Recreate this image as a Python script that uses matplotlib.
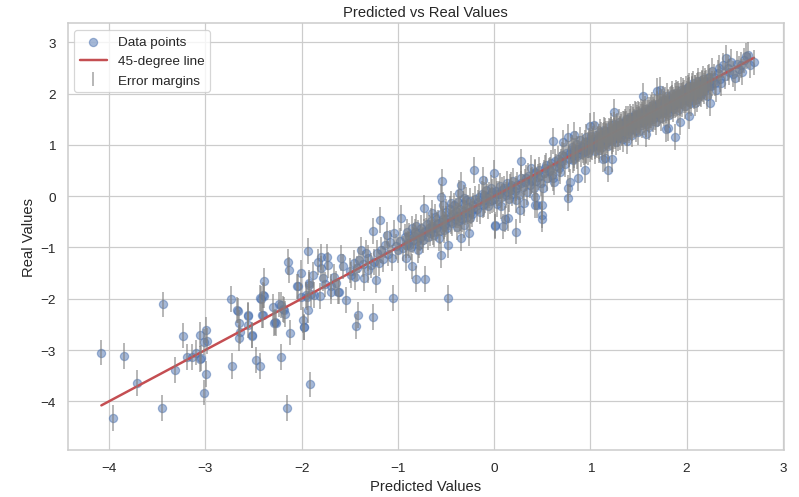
import matplotlib
matplotlib.use("Agg")
import matplotlib.pyplot as plt
import seaborn as sns
import numpy as np

# (predicted, real) pairs, grouped by region
points_low = [
    (-4.08, -3.05), (-3.96, -4.32), (-3.84, -3.12), (-3.71, -3.64), (-3.44, -2.11),
    (-3.45, -4.13), (-3.31, -3.39), (-3.23, -2.72), (-3.19, -3.14), (-3.14, -3.14),
    (-3.06, -2.70), (-3.04, -3.16), (-3.01, -2.84), (-2.99, -2.61), (-2.98, -2.83),
    (-2.99, -3.47), (-3.01, -3.83), (-3.06, -3.18), (-3.10, -3.05),
    (-2.73, -2.00), (-2.72, -3.31), (-2.66, -2.23), (-2.65, -2.47), (-2.65, -2.76),
    (-2.64, -2.64), (-2.56, -2.34), (-2.52, -2.72), (-2.47, -3.19), (-2.43, -3.31),
    (-2.41, -2.32), (-2.42, -2.00), (-2.39, -1.94), (-2.39, -1.65), (-2.30, -2.16),
    (-2.29, -2.47), (-2.27, -2.47), (-2.23, -2.11), (-2.21, -3.14), (-2.19, -2.20),
    (-2.17, -2.30), (-2.12, -2.66), (-2.15, -4.13), (-2.05, -1.76), (-1.98, -2.56),
    (-1.99, -2.41), (-1.91, -3.67), (-1.92, -1.69), (-1.94, -1.96), (-1.93, -2.22),
    (-1.87, -1.93), (-1.81, -1.95), (-1.69, -1.86), (-1.62, -1.86),
    (-2.14, -1.28), (-2.13, -1.44), (-2.01, -1.50), (-2.04, -1.76), (-2.01, -1.96),
    (-1.93, -1.07), (-1.88, -1.54), (-1.92, -1.73), (-1.95, -1.93), (-1.90, -1.91),
    (-1.83, -1.28), (-1.80, -1.18), (-1.80, -1.41), (-1.78, -1.60), (-1.74, -1.19),
    (-1.73, -1.34), (-1.69, -1.76), (-1.61, -1.86), (-2.18, -2.22), (-2.21, -2.12),
    (-2.28, -2.45), (-2.40, -1.93), (-2.43, -1.99), (-2.40, -2.32), (-2.56, -2.32),
    (-2.56, -2.51), (-2.67, -2.22), (-2.51, -2.71), (-1.98, -2.55), (-1.76, -1.72),
    (-1.66, -1.58), (-1.64, -1.70),
]

points_mid = [
    (-1.59, -1.21), (-1.57, -1.37), (-1.54, -2.02), (-1.49, -1.54), (-1.42, -1.41),
    (-1.38, -1.05), (-1.35, -1.60), (-1.31, -1.21), (-1.31, -1.44), (-1.26, -0.68),
    (-1.23, -1.63), (-1.22, -1.11), (-1.19, -0.46), (-1.11, -0.76), (-1.05, -1.99),
    (-1.04, -0.72), (-0.97, -0.43), (-0.91, -1.21), (-0.90, -0.69), (-0.85, -0.63),
    (-0.85, -1.37), (-0.81, -1.62), (-0.81, -0.59), (-0.79, -0.72), (-0.79, -1.05),
    (-0.73, -0.23), (-0.72, -1.62), (-0.65, -0.33), (-0.65, -0.63), (-0.57, -0.82),
    (-0.55, -1.15), (-0.55, -0.01), (-0.54, 0.29), (-0.53, -0.17), (-0.52, -0.66),
    (-0.52, -0.59), (-0.48, -0.95), (-0.48, -1.98), (-0.45, -0.14), (-0.36, 0.06),
    (-0.36, -0.49), (-0.34, 0.22), (-0.34, -0.82), (-0.31, -0.04), (-0.31, -0.56),
    (-0.26, -0.72), (-0.25, -0.43), (-0.24, -0.30), (-0.21, 0.51), (-1.41, -2.32),
    (-1.26, -2.36), (-1.43, -2.54),
    (-1.50, -1.45), (-1.46, -1.30), (-1.44, -1.58), (-1.40, -1.25), (-1.36, -1.32),
    (-1.33, -1.10), (-1.28, -1.35), (-1.25, -1.28), (-1.20, -1.30), (-1.18, -1.05),
    (-1.15, -1.22), (-1.13, -0.95), (-1.10, -1.12), (-1.08, -0.90), (-1.06, -1.20),
    (-1.02, -0.98), (-1.00, -1.05), (-0.98, -0.88), (-0.95, -1.02), (-0.93, -0.80),
    (-0.92, -0.95), (-0.89, -0.92), (-0.88, -0.78), (-0.86, -1.00), (-0.84, -0.85),
    (-0.82, -0.70), (-0.80, -0.88), (-0.78, -0.95), (-0.76, -0.62), (-0.75, -0.78),
    (-0.74, -0.86), (-0.71, -0.68), (-0.70, -0.55), (-0.69, -0.80), (-0.67, -0.72),
    (-0.66, -0.48), (-0.64, -0.58), (-0.62, -0.75), (-0.61, -0.40), (-0.60, -0.62),
    (-0.58, -0.52), (-0.56, -0.68), (-0.55, -0.35), (-0.53, -0.45), (-0.51, -0.55),
    (-0.50, -0.30), (-0.49, -0.62), (-0.47, -0.40), (-0.46, -0.25), (-0.44, -0.52),
    (-0.43, -0.35), (-0.42, -0.18), (-0.41, -0.45), (-0.40, -0.28), (-0.39, -0.60),
    (-0.38, -0.12), (-0.37, -0.38), (-0.35, -0.25), (-0.33, -0.45), (-0.32, -0.15),
    (-0.30, -0.32), (-0.29, -0.08), (-0.28, -0.40), (-0.27, -0.22), (-0.25, -0.10),
    (-0.23, -0.35), (-0.22, -0.18), (-0.20, -0.05),
]

points_center = [
    (-0.12, 0.32), (-0.10, 0.03), (-0.03, 0.16), (0.00, 0.45), (0.01, -0.56),
    (0.01, -0.59), (0.07, -0.20), (0.09, -0.59), (0.11, -0.45), (0.14, -0.42),
    (0.18, 0.12), (0.23, -0.07), (0.23, -0.69), (0.27, -0.27), (0.28, 0.68),
    (0.31, -0.14), (0.38, 0.55), (0.43, -0.01), (0.43, -0.18), (0.45, -0.18),
    (0.50, -0.17), (0.50, -0.37), (0.50, -0.44), (0.51, 0.16), (0.61, 0.35),
    (0.62, 0.28), (0.61, 1.08), (0.68, 0.48), (0.72, 1.05), (0.77, -0.04),
    (0.77, 0.16), (0.79, 0.28), (0.83, 0.74), (0.83, 1.20), (0.87, 0.35),
    (0.94, 0.51), (0.77, 1.15),
    (-0.18, -0.25), (-0.16, -0.02), (-0.15, -0.30), (-0.13, 0.05), (-0.11, -0.15),
    (-0.09, -0.08), (-0.08, 0.12), (-0.06, -0.20), (-0.05, 0.02), (-0.04, -0.10),
    (-0.02, 0.08), (0.00, -0.05), (0.02, 0.10), (0.03, -0.15), (0.05, 0.05),
    (0.06, 0.20), (0.08, -0.02), (0.10, 0.15), (0.12, 0.02), (0.13, 0.25),
    (0.15, -0.05), (0.17, 0.18), (0.19, 0.05), (0.20, 0.30), (0.22, 0.10),
    (0.24, 0.22), (0.26, 0.02), (0.28, 0.35), (0.30, 0.18), (0.32, 0.28),
    (0.34, 0.08), (0.35, 0.40), (0.37, 0.22), (0.39, 0.32), (0.41, 0.15),
    (0.42, 0.45), (0.44, 0.30), (0.46, 0.38), (0.47, 0.52), (0.49, 0.25),
    (0.52, 0.45), (0.54, 0.60), (0.55, 0.35), (0.57, 0.50), (0.59, 0.65),
    (0.60, 0.42), (0.64, 0.58), (0.66, 0.72), (0.67, 0.55), (0.70, 0.68),
    (0.71, 0.80), (0.74, 0.62), (0.75, 0.85), (0.78, 0.72), (0.80, 0.90),
    (-0.88, -0.95), (-0.83, -0.78), (-0.77, -0.82), (-0.73, -0.70), (-0.68, -0.62),
    (-0.63, -0.70), (-0.59, -0.55), (-0.54, -0.50), (-0.50, -0.45), (-0.45, -0.48),
    (-0.40, -0.38), (-0.35, -0.42), (-0.31, -0.28), (-0.27, -0.30), (-0.22, -0.25),
    (-0.17, -0.12), (-0.12, -0.18), (-0.07, -0.02), (-0.02, -0.08), (0.03, 0.05),
    (0.08, 0.12), (0.13, 0.08), (0.18, 0.22), (0.23, 0.15), (0.28, 0.25),
    (0.33, 0.35), (0.38, 0.30), (0.43, 0.48), (0.48, 0.40), (0.53, 0.55),
    (0.58, 0.52), (0.63, 0.68), (0.68, 0.62), (0.73, 0.78), (0.78, 0.82),
    (0.82, 0.88), (0.86, 0.92), (0.92, 0.90),
]

points_dense = [
    (0.81, 0.95), (0.82, 0.70), (0.84, 0.88), (0.85, 1.02), (0.86, 0.78),
    (0.88, 0.92), (0.89, 1.10), (0.90, 0.82), (0.91, 0.98), (0.93, 0.86),
    (0.94, 1.05), (0.95, 0.90), (0.96, 1.15), (0.98, 0.85), (0.99, 1.02),
    (1.00, 0.92), (1.01, 1.18), (1.02, 0.95), (1.03, 1.08), (1.05, 0.88),
    (1.06, 1.20), (1.07, 1.00), (1.08, 1.12), (1.09, 0.90), (1.10, 1.25),
    (1.11, 1.05), (1.12, 0.95), (1.13, 1.18), (1.14, 1.30), (1.15, 1.02),
    (1.16, 1.22), (1.17, 1.10), (1.18, 0.98), (1.19, 1.28), (1.20, 1.15),
    (1.21, 1.38), (1.22, 1.08), (1.23, 1.25), (1.24, 1.12), (1.25, 1.40),
    (1.26, 1.20), (1.27, 1.05), (1.28, 1.32), (1.29, 1.22), (1.30, 1.45),
    (1.31, 1.15), (1.32, 1.35), (1.33, 1.25), (1.34, 1.12), (1.35, 1.42),
    (1.36, 1.30), (1.37, 1.50), (1.38, 1.22), (1.39, 1.38), (1.40, 1.28),
    (1.41, 1.55), (1.42, 1.35), (1.43, 1.20), (1.44, 1.48), (1.45, 1.38),
    (1.46, 1.60), (1.47, 1.30), (1.48, 1.52), (1.49, 1.42), (1.50, 1.25),
    (1.51, 1.58), (1.52, 1.45), (1.53, 1.65), (1.54, 1.38), (1.55, 1.55),
    (1.56, 1.48), (1.57, 1.70), (1.58, 1.40), (1.59, 1.62), (1.60, 1.52),
    (1.61, 1.35), (1.62, 1.68), (1.63, 1.55), (1.64, 1.78), (1.65, 1.50),
    (1.66, 1.62), (1.67, 1.72), (1.68, 1.45), (1.69, 1.80), (1.70, 1.60),
    (1.71, 1.75), (1.72, 1.65), (1.73, 1.52), (1.74, 1.85), (1.75, 1.70),
    (1.76, 1.90), (1.77, 1.62), (1.78, 1.78), (1.79, 1.68), (1.80, 1.95),
    (1.81, 1.72), (1.82, 1.58), (1.83, 1.88), (1.84, 1.75), (1.85, 2.00),
    (1.86, 1.70), (1.87, 1.85), (1.88, 1.78), (1.89, 2.02), (1.90, 1.82),
    (1.91, 1.68), (1.92, 1.95), (1.93, 1.85), (1.94, 2.08), (1.95, 1.80),
    (1.96, 1.98), (1.97, 1.88), (1.98, 1.75), (1.99, 2.10), (2.00, 1.92),
    (2.01, 2.05), (2.02, 1.85), (2.03, 2.15), (2.04, 1.98), (2.05, 1.82),
    (2.06, 2.08), (2.07, 2.20), (2.08, 1.95), (2.09, 2.12), (2.10, 2.02),
    (2.11, 1.90), (2.12, 2.25), (2.13, 2.05), (2.14, 2.18), (2.15, 1.98),
    (2.16, 2.10), (2.17, 2.28), (2.18, 2.05), (2.19, 2.20), (2.20, 2.12),
    (2.21, 1.95), (2.22, 2.30), (2.23, 2.15),
    (1.205, 1.25), (1.235, 1.18), (1.265, 1.35), (1.295, 1.28), (1.315, 1.40),
    (1.345, 1.30), (1.375, 1.42), (1.405, 1.33), (1.425, 1.50), (1.455, 1.45),
    (1.475, 1.58), (1.505, 1.48), (1.525, 1.55), (1.545, 1.62), (1.575, 1.52),
    (1.595, 1.68), (1.615, 1.58), (1.645, 1.62), (1.665, 1.75), (1.685, 1.62),
    (1.705, 1.72), (1.725, 1.82), (1.745, 1.68), (1.765, 1.80), (1.785, 1.72),
    (1.805, 1.85), (1.825, 1.78), (1.845, 1.92), (1.865, 1.82), (1.885, 1.90),
    (1.905, 1.98), (1.925, 1.88), (1.945, 1.95), (1.965, 2.05), (1.985, 1.92),
    (2.005, 2.00), (2.025, 2.08), (2.045, 1.95), (2.065, 2.02), (2.085, 2.12),
    (1.105, 1.12), (1.125, 1.05), (1.145, 1.20), (1.165, 1.15), (1.185, 1.22),
    (0.975, 1.00), (1.015, 1.05), (1.045, 0.98), (1.075, 1.10), (0.925, 0.95),
    (0.875, 0.85), (0.835, 0.80), (2.105, 2.15), (2.125, 2.08), (2.145, 2.10),
    (2.165, 2.20), (2.185, 2.15), (2.205, 2.22), (2.245, 2.25), (2.265, 2.20),
    (1.04, 1.39), (1.25, 1.65), (1.13, 0.73), (1.22, 0.73), (1.18, 0.52),
    (1.29, 1.13), (1.38, 1.08), (1.58, 1.21), (1.55, 1.96), (1.69, 2.06),
    (1.72, 2.08), (1.79, 1.31), (1.81, 1.33), (1.88, 1.15), (1.93, 1.45),
    (2.02, 1.57), (2.09, 1.81), (2.10, 2.03), (2.12, 1.98), (1.00, 1.37),
    (1.15, 0.74),
]

points_dense_extra = [
    (0.955, 0.88), (0.985, 1.08), (1.005, 0.98), (1.025, 1.12), (1.055, 1.02),
    (1.085, 1.15), (1.095, 0.98), (1.115, 1.20), (1.135, 1.08), (1.155, 1.28),
    (1.175, 1.05), (1.195, 1.18), (1.215, 1.30), (1.225, 1.15), (1.245, 1.28),
    (1.255, 1.18), (1.275, 1.38), (1.285, 1.20), (1.305, 1.32), (1.325, 1.22),
    (1.335, 1.42), (1.355, 1.28), (1.365, 1.45), (1.385, 1.32), (1.395, 1.50),
    (1.415, 1.38), (1.435, 1.32), (1.445, 1.55), (1.465, 1.40), (1.485, 1.48),
    (1.495, 1.60), (1.515, 1.42), (1.535, 1.58), (1.555, 1.45), (1.565, 1.65),
    (1.585, 1.55), (1.605, 1.48), (1.625, 1.72), (1.635, 1.58), (1.655, 1.68),
    (1.675, 1.55), (1.695, 1.78), (1.715, 1.62), (1.735, 1.75), (1.755, 1.65),
    (1.775, 1.88), (1.795, 1.75), (1.815, 1.65), (1.835, 1.90), (1.855, 1.78),
    (1.875, 1.95), (1.895, 1.80), (1.915, 2.00), (1.935, 1.82), (1.955, 1.95),
    (1.975, 2.02), (1.995, 1.88), (2.015, 2.12), (2.035, 1.95), (2.055, 2.15),
    (2.075, 1.98), (2.095, 2.08), (2.115, 2.18), (2.135, 2.00), (2.155, 2.22),
    (2.175, 2.08), (2.195, 2.25), (2.215, 2.12), (2.235, 2.32), (2.255, 2.15),
    (1.31, 1.30), (1.36, 1.40), (1.41, 1.45), (1.46, 1.42), (1.51, 1.50),
    (1.56, 1.60), (1.61, 1.62), (1.66, 1.65), (1.71, 1.70), (1.76, 1.75),
    (1.81, 1.82), (1.86, 1.88), (1.91, 1.90), (1.96, 1.92), (2.01, 1.98),
    (2.06, 2.10), (1.26, 1.30), (1.21, 1.22), (1.16, 1.18), (1.11, 1.10),
]

points_top = [
    (2.24, 1.82), (2.26, 2.44), (2.28, 2.32), (2.31, 2.08), (2.33, 2.40),
    (2.35, 2.28), (2.36, 2.21), (2.38, 2.55), (2.40, 2.35), (2.41, 2.70),
    (2.43, 2.50), (2.44, 2.42), (2.46, 2.62), (2.48, 2.38), (2.50, 2.30),
    (2.52, 2.58), (2.54, 2.48), (2.57, 2.56), (2.58, 2.42), (2.60, 2.65),
    (2.62, 2.73), (2.64, 2.75), (2.66, 2.55), (2.70, 2.61), (2.30, 2.20),
    (2.34, 2.50),
]

error_margin = 0.25

all_points = (points_low + points_mid + points_center + points_dense
              + points_dense_extra + points_top)
predicted = np.array([p[0] for p in all_points])
real = np.array([p[1] for p in all_points])

sns.set_theme(style="whitegrid")
plt.rcParams["font.family"] = ["Liberation Sans", "DejaVu Sans"]

DPI = 88.8
fig = plt.figure(figsize=(799 / DPI, 498 / DPI), dpi=DPI)
ax = fig.add_subplot(111)
fig.subplots_adjust(left=0.0847, right=0.981, bottom=0.0944, top=0.951)

ax.scatter(predicted, real, alpha=0.5, s=44, color="b", label="Data points")
lo, hi = predicted.min(), predicted.max()
ax.plot([lo, hi], [lo, hi], color="r", lw=2, label="45-degree line")
ax.errorbar(predicted, real, yerr=error_margin, fmt="none", ecolor="gray",
            alpha=0.6, label="Error margins")

ax.set_xlim(-4.43, 3.01)
ax.set_ylim(-4.95, 3.37)
ax.set_title("Predicted vs Real Values")
ax.set_xlabel("Predicted Values")
ax.set_ylabel("Real Values")
ax.legend(loc="upper left")

fig.savefig("out.png", dpi=DPI)
